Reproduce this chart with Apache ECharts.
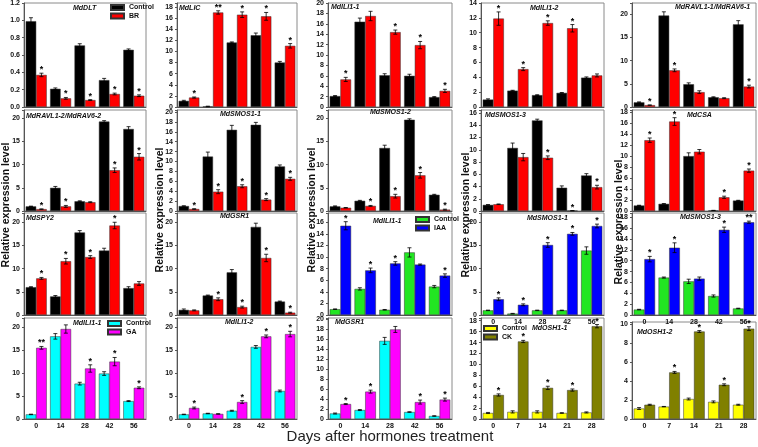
<!DOCTYPE html>
<html><head><meta charset="utf-8">
<script src="https://cdn.jsdelivr.net/npm/echarts@6/dist/echarts.min.js"></script>
<style>html,body{margin:0;padding:0;background:#fff}#c{width:758px;height:447px}</style>
</head><body><div id="c"></div><script>
// ---------- categories ----------
const daysA = ['0','14','28','42','56'];
const daysB = ['0','7','14','21','28'];

// ---------- data (value, error, significance) ----------
const dltCtrl=[0.99,0.21,0.71,0.31,0.66], dltCtrlErr=[0.04,0.01,0.02,0.02,0.01];
const dltBR=[0.37,0.10,0.08,0.15,0.13], dltBRErr=[0.02,0.01,0.005,0.01,0.01], dltSig=['*','*','*','*','*'];

const licCtrl=[1.1,0.1,11.6,12.9,8.0], licCtrlErr=[0.1,0.05,0.1,0.4,0.2];
const licBR=[1.7,17.0,16.6,16.3,11.0], licBRErr=[0.1,0.3,0.5,0.7,0.4], licSig=['*','**','*','*','*'];

const ili11Ctrl=[2.1,16.4,6.1,6.0,1.9], ili11CtrlErr=[0.1,0.7,0.3,0.3,0.1];
const ili11BR=[5.3,17.5,14.4,11.9,3.1], ili11BRErr=[0.4,0.9,0.4,0.7,0.3], ili11Sig=['*','','*','*','*'];

const ili12Ctrl=[1.0,2.2,1.6,1.9,3.95], ili12CtrlErr=[0.1,0.05,0.05,0.05,0.1];
const ili12BR=[11.9,5.1,11.3,10.6,4.25], ili12BRErr=[0.9,0.2,0.3,0.5,0.2], ili12Sig=['*','*','*','*',''];

const rav1Ctrl=[1.0,19.7,4.9,2.1,17.8], rav1CtrlErr=[0.1,0.8,0.3,0.1,0.8];
const rav1BR=[0.4,7.9,3.2,1.9,4.4], rav1BRErr=[0.05,0.3,0.3,0.1,0.3], rav1Sig=['*','*','','','*'];

const rav2Ctrl=[1.0,5.0,2.1,19.3,17.7], rav2CtrlErr=[0.05,0.3,0.1,0.2,0.5];
const rav2BR=[0.4,1.0,1.9,8.8,11.7], rav2BRErr=[0.05,0.2,0.1,0.5,0.7], rav2Sig=['*','*','','*','*'];

const smos11Ctrl=[1.0,11.0,16.4,17.4,9.0], smos11CtrlErr=[0.05,0.9,0.9,0.5,0.3];
const smos11BR=[0.4,3.9,5.0,2.3,6.5], smos11BRErr=[0.05,0.4,0.3,0.2,0.3], smos11Sig=['*','*','*','*','*'];

const smos12Ctrl=[1.0,2.2,13.6,19.7,3.5], smos12CtrlErr=[0.1,0.1,0.6,0.2,0.1];
const smos12BR=[0.7,1.1,3.2,7.7,0.3], smos12BRErr=[0.05,0.1,0.4,0.6,0.1], smos12Sig=['','*','*','*','*'];

const smos13Ctrl=[1.0,10.3,14.8,3.8,5.8], smos13CtrlErr=[0.05,0.8,0.2,0.3,0.3];
const smos13BR=[1.1,8.8,8.7,0.05,3.9], smos13BRErr=[0.05,0.6,0.3,0.02,0.3], smos13Sig=['','','*','*','*'];

const csaCtrl=[1.0,1.3,10.0,0.1,1.9], csaCtrlErr=[0.05,0.05,0.6,0.02,0.05];
const csaBR=[12.9,16.3,10.8,2.5,7.35], csaBRErr=[0.4,0.7,0.4,0.2,0.3], csaSig=['*','*','','*','*'];

const spyCtrl=[6.0,4.0,17.8,13.9,5.8], spyCtrlErr=[0.1,0.2,0.4,0.5,0.3];
const spyBR=[7.9,11.6,12.5,19.3,6.8], spyBRErr=[0.2,0.6,0.3,0.7,0.4], spySig=['*','*','*','*',''];

const gsrCtrl=[1.1,4.2,9.2,19.0,2.9], gsrCtrlErr=[0.2,0.1,0.6,0.8,0.1];
const gsrBR=[1.0,3.4,1.7,12.3,0.5], gsrBRErr=[0.1,0.3,0.2,0.8,0.1], gsrSig=['','*','*','*','*'];

const iaaIliCtrl=[1.0,4.5,0.9,10.8,4.9], iaaIliCtrlErr=[0.05,0.2,0.05,0.8,0.2];
const iaaIli=[15.4,7.7,8.9,8.7,6.8], iaaIliErr=[0.7,0.4,0.3,0.1,0.3], iaaIliSig=['*','*','*','','*'];

const iaaSmos1Ctrl=[1.0,0.3,1.0,1.0,13.9], iaaSmos1CtrlErr=[0.05,0.05,0.05,0.05,0.8];
const iaaSmos1=[3.4,2.2,15.1,17.5,19.2], iaaSmos1Err=[0.3,0.2,0.5,0.3,0.4], iaaSmos1Sig=['*','*','*','*','*'];

const iaaSmos3Ctrl=[1.0,6.9,6.2,3.5,1.2], iaaSmos3CtrlErr=[0.05,0.1,0.4,0.2,0.05];
const iaaSmos3=[10.3,12.4,6.7,15.7,17.1], iaaSmos3Err=[0.5,0.9,0.3,0.5,0.2], iaaSmos3Sig=['*','*','','*','**'];

const gaIli1Ctrl=[1.0,18.0,7.7,9.9,3.9], gaIli1CtrlErr=[0.05,0.6,0.3,0.4,0.1];
const gaIli1=[15.5,19.6,11.0,12.5,6.8], gaIli1Err=[0.3,0.9,0.8,0.9,0.2], gaIli1Sig=['**','','*','*','*'];

const gaIli2Ctrl=[1.0,1.2,1.8,15.7,6.1], gaIli2CtrlErr=[0.05,0.05,0.1,0.3,0.2];
const gaIli2=[2.4,1.1,3.7,18.0,18.5], gaIli2Err=[0.2,0.05,0.3,0.3,0.6], gaIli2Sig=['*','','*','*','*'];

const gaGsrCtrl=[1.1,1.8,15.7,1.4,0.6], gaGsrCtrlErr=[0.1,0.1,0.7,0.05,0.05];
const gaGsr=[3.0,5.5,18.0,3.4,3.9], gaGsrErr=[0.1,0.3,0.6,0.4,0.3], gaGsrSig=['*','*','','*','*'];

const ckOsh1Ctrl=[1.1,1.3,1.3,1.1,1.2], ckOsh1CtrlErr=[0.1,0.2,0.2,0.05,0.1];
const ckOsh1=[4.4,14.2,5.7,5.3,17.0], ckOsh1Err=[0.2,0.2,0.3,0.2,0.3], ckOsh1Sig=['*','*','*','*','*'];

const ckOsh2Ctrl=[1.1,1.3,2.1,1.8,1.5], ckOsh2CtrlErr=[0.1,0.02,0.1,0.1,0.05];
const ckOsh2=[1.5,4.9,9.2,3.6,9.5], ckOsh2Err=[0.05,0.1,0.1,0.1,0.2], ckOsh2Sig=['','*','*','*','*'];

// ---------- layout / style ----------
const FONT = '"Liberation Sans", Arial, sans-serif';
const GAP = 0.14;
const cols = [[24,146],[177,297],[328,452],[481,604],[632,756]];
const rows = [[3,107],[110,211],[213,315],[318,419]];
const COL = {
  BR: ['#000000','#ff0000'], IAA: ['#22e622','#0000ff'],
  GA: ['#00ffff','#ff00ff'], CK: ['#ffff00','#808000']
};

function P(name, c, ce, t, te, sig, treat, cats, max, interval, dec, col, row, title, opts) {
  return Object.assign({name, c, ce, t, te, sig, treat, cats, max, interval, dec, col, row, title}, opts || {});
}
const panels = [
  P('MdDLT', dltCtrl, dltCtrlErr, dltBR, dltBRErr, dltSig, 'BR', daysA, 1.2, 0.2, 1, 0, 0, [73,8], {legend:[110,4]}),
  P('MdLIC', licCtrl, licCtrlErr, licBR, licBRErr, licSig, 'BR', daysA, 18.7, 2, 0, 1, 0, [179,8]),
  P('MdILI1-1', ili11Ctrl, ili11CtrlErr, ili11BR, ili11BRErr, ili11Sig, 'BR', daysA, 20, 2, 0, 2, 0, [331,7]),
  P('MdILI1-2', ili12Ctrl, ili12CtrlErr, ili12BR, ili12BRErr, ili12Sig, 'BR', daysA, 14, 2, 0, 3, 0, [530,8]),
  P('MdRAVL1-1/MdRAV6-1', rav1Ctrl, rav1CtrlErr, rav1BR, rav1BRErr, rav1Sig, 'BR', daysA, 22.4, 5, 0, 4, 0, [675,7]),
  P('MdRAVL1-2/MdRAV6-2', rav2Ctrl, rav2CtrlErr, rav2BR, rav2BRErr, rav2Sig, 'BR', daysA, 21.8, 5, 0, 0, 1, [26,116]),
  P('MdSMOS1-1', smos11Ctrl, smos11CtrlErr, smos11BR, smos11BRErr, smos11Sig, 'BR', daysA, 20.4, 2, 0, 1, 1, [220,114]),
  P('MdSMOS1-2', smos12Ctrl, smos12CtrlErr, smos12BR, smos12BRErr, smos12Sig, 'BR', daysA, 21.8, 5, 0, 2, 1, [370,112]),
  P('MdSMOS1-3', smos13Ctrl, smos13CtrlErr, smos13BR, smos13BRErr, smos13Sig, 'BR', daysA, 16.5, 2, 0, 3, 1, [485,115]),
  P('MdCSA', csaCtrl, csaCtrlErr, csaBR, csaBRErr, csaSig, 'BR', daysA, 18.4, 2, 0, 4, 1, [687,115]),
  P('MdSPY2', spyCtrl, spyCtrlErr, spyBR, spyBRErr, spySig, 'BR', daysA, 22, 5, 0, 0, 2, [26,218]),
  P('MdGSR1', gsrCtrl, gsrCtrlErr, gsrBR, gsrBRErr, gsrSig, 'BR', daysA, 22, 5, 0, 1, 2, [220,216]),
  P('MdILI1-1', iaaIliCtrl, iaaIliCtrlErr, iaaIli, iaaIliErr, iaaIliSig, 'IAA', daysA, 17.6, 2, 0, 2, 2, [373,221], {legend:[415,216]}),
  P('MdSMOS1-1', iaaSmos1Ctrl, iaaSmos1CtrlErr, iaaSmos1, iaaSmos1Err, iaaSmos1Sig, 'IAA', daysA, 22, 5, 0, 3, 2, [527,218], {xlab:true}),
  P('MdSMOS1-3', iaaSmos3Ctrl, iaaSmos3CtrlErr, iaaSmos3, iaaSmos3Err, iaaSmos3Sig, 'IAA', daysA, 18.8, 2, 0, 4, 2, [680,217], {xlab:true}),
  P('MdILI1-1', gaIli1Ctrl, gaIli1CtrlErr, gaIli1, gaIli1Err, gaIli1Sig, 'GA', daysA, 22, 5, 0, 0, 3, [73,323], {legend:[107,320], xlab:true}),
  P('MdILI1-2', gaIli2Ctrl, gaIli2CtrlErr, gaIli2, gaIli2Err, gaIli2Sig, 'GA', daysA, 22, 5, 0, 1, 3, [225,322], {xlab:true}),
  P('MdGSR1', gaGsrCtrl, gaGsrCtrlErr, gaGsr, gaGsrErr, gaGsrSig, 'GA', daysA, 20.3, 2, 0, 2, 3, [335,322], {xlab:true}),
  P('MdOSH1-1', ckOsh1Ctrl, ckOsh1CtrlErr, ckOsh1, ckOsh1Err, ckOsh1Sig, 'CK', daysB, 18.5, 2, 0, 3, 3, [532,328], {legend:[483,325], xlab:true}),
  P('MdOSH1-2', ckOsh2Ctrl, ckOsh2CtrlErr, ckOsh2, ckOsh2Err, ckOsh2Sig, 'CK', daysB, 10.2, 2, 0, 4, 3, [637,332], {xlab:true, top:322})
];

const grids=[], xAxes=[], yAxes=[], series=[], legends=[], graphics=[];

function errSeries(i, side, vals, errs, sig) {
  return {
    type:'custom', xAxisIndex:i, yAxisIndex:i, z:5, silent:true,
    data: vals.map((v,k)=>[k, v, errs[k]]),
    encode:{x:0, y:1},
    renderItem: function(params, api){
      const k=api.value(0), v=api.value(1), e=api.value(2);
      const band=api.size([1,0])[0];
      const bw=band*(1-GAP)/2;
      const c=api.coord([k,v]);
      const cx=c[0]+(side? bw/2 : -bw/2);
      const yT=api.coord([k,v+e])[1];
      const yB=api.coord([k,Math.max(v-e,0)])[1];
      const st={stroke:'#000', lineWidth:0.8};
      const ch=[
        {type:'line', shape:{x1:cx,y1:yT,x2:cx,y2:yB}, style:st},
        {type:'line', shape:{x1:cx-2,y1:yT,x2:cx+2,y2:yT}, style:st},
        {type:'line', shape:{x1:cx-2,y1:yB,x2:cx+2,y2:yB}, style:st}
      ];
      const s=sig[params.dataIndex];
      if(s) ch.push({type:'text', style:{text:s, x:cx, y:yT+1, align:'center', verticalAlign:'bottom',
        font:'bold 9px '+FONT, fill:'#000'}});
      return {type:'group', children:ch};
    }
  };
}

panels.forEach((p,i)=>{
  const [x0,x1]=cols[p.col];
  let [y0,y1]=rows[p.row];
  if(p.top) y0=p.top;
  grids.push({left:x0, top:y0, width:x1-x0, height:y1-y0, show:true, borderColor:'#8a8a8a', borderWidth:1,
    containLabel:false, outerBoundsMode:'none'});
  xAxes.push({type:'category', gridIndex:i, data:p.cats,
    axisLine:{lineStyle:{color:'#555', width:1}},
    axisTick:{alignWithLabel:true, length:2, lineStyle:{color:'#555'}},
    axisLabel:{show:!!p.xlab, fontSize:7, fontWeight:'bold', color:'#111', margin:4, fontFamily:FONT},
    splitLine:{show:false}});
  const itv=p.interval, dec=p.dec;
  yAxes.push({type:'value', gridIndex:i, min:0, max:p.max, interval:itv,
    axisLine:{show:true, lineStyle:{color:'#555', width:1}},
    axisTick:{show:true, length:2, lineStyle:{color:'#555'}},
    splitLine:{show:false},
    axisLabel:{fontSize:7, fontWeight:'bold', color:'#111', margin:4, fontFamily:FONT,
      formatter:v=>{const r=v/itv; return Math.abs(r-Math.round(r))<1e-6 ? v.toFixed(dec) : '';}}});
  const [cc,tc]=COL[p.treat];
  const nC='Control@'+i, nT=p.treat+'@'+i;
  const bar=(name,data,color)=>({type:'bar', name, xAxisIndex:i, yAxisIndex:i, data,
    barGap:'0%', barCategoryGap:(GAP*100)+'%',
    itemStyle:{color, borderColor:'#333', borderWidth:0.5}});
  series.push(bar(nC,p.c,cc), bar(nT,p.t,tc));
  series.push(errSeries(i,0,p.c,p.ce,['','','','','']), errSeries(i,1,p.t,p.te,p.sig));
  if(p.legend){
    legends.push({data:[nC,nT], orient:'vertical', left:p.legend[0], top:p.legend[1], padding:0,
      itemWidth:13, itemHeight:5, itemGap:1.5, icon:'rect', selectedMode:false,
      formatter:n=>n.split('@')[0],
      textStyle:{fontSize:7, fontWeight:'bold', color:'#111', fontFamily:FONT, lineHeight:7}});
  }
  graphics.push({type:'text', x:p.title[0], y:p.title[1], silent:true,
    style:{text:p.name, font:'italic bold 7px '+FONT, fill:'#111', verticalAlign:'middle'}});
});

const ylabX=[6,160,312,466,619], ylabY=[205,210,210,215,222];
ylabX.forEach((x,k)=>graphics.push({type:'text', x, y:ylabY[k], rotation:Math.PI/2, silent:true,
  style:{text:'Relative expression level', font:'bold 10.5px '+FONT, fill:'#111', align:'center', verticalAlign:'middle'}}));
graphics.push({type:'text', x:390, y:437, silent:true,
  style:{text:'Days after hormones treatment', font:'15px '+FONT, fill:'#222', align:'center', verticalAlign:'middle'}});

const chart=echarts.init(document.getElementById('c'), null, {renderer:'canvas'});
chart.setOption({animation:false, backgroundColor:'#fff', grid:grids, xAxis:xAxes, yAxis:yAxes,
  legend:legends, series, graphic:graphics});
</script></body></html>
